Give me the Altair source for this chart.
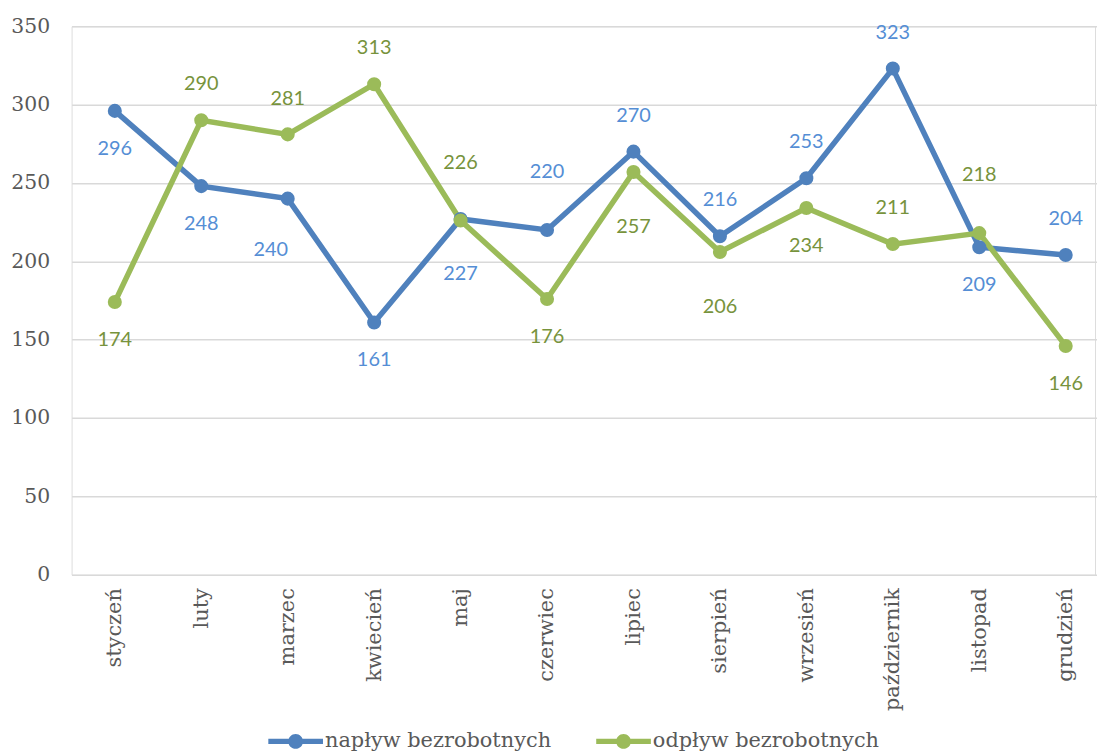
import altair as alt
import pandas as pd

months = ["styczeń", "luty", "marzec", "kwiecień", "maj", "czerwiec",
          "lipiec", "sierpień", "wrzesień", "październik", "listopad", "grudzień"]
inflow = [296, 248, 240, 161, 227, 220, 270, 216, 253, 323, 209, 204]
outflow = [174, 290, 281, 313, 226, 176, 257, 206, 234, 211, 218, 146]
series_names = ["napływ bezrobotnych", "odpływ bezrobotnych"]

# label placement (style): a = above, a2 = further above, b = below,
# b2 = further below, b2l = further below and shifted left
inflow_side = ["b", "b", "b2l", "b", "b2", "a2", "a", "a", "a", "a", "b", "a"]
outflow_side = ["b", "a", "a", "a", "a2", "b", "b2", "b2", "b", "a", "a2", "b"]

line_colors = ["#4F81BD", "#9BBB59"]
label_colors = ["#558ED5", "#77933C"]
side_offset = {"a": (0, -36), "a2": (0, -58), "b": (0, 38), "b2": (0, 55),
               "b2l": (-17, 52)}

rows = []
for name, vals, sides in [(series_names[0], inflow, inflow_side),
                          (series_names[1], outflow, outflow_side)]:
    for m, v, s in zip(months, vals, sides):
        rows.append({"miesiac": m, "wartosc": v, "seria": name, "side": s})
df = pd.DataFrame(rows)

serif = "DejaVu Serif"
sans = "Lato"

x_enc = alt.X("miesiac:N", sort=months, title=None,
              scale=alt.Scale(padding=0.5, range=[0, 1044]),
              axis=alt.Axis(labelAngle=-90, labelFont=serif, labelFontSize=21,
                            labelColor="#595959", labelPadding=13, ticks=False,
                            domain=False, grid=False))
y_enc = alt.Y("wartosc:Q", title=None,
              scale=alt.Scale(domain=[0, 350], nice=False),
              axis=alt.Axis(values=[0, 50, 100, 150, 200, 250, 300, 350],
                            labelFont=serif, labelFontSize=20.5, labelColor="#595959",
                            labelPadding=22, ticks=False, domain=False,
                            gridColor="#D9D9D9", gridWidth=1.5))
color_scale = alt.Scale(domain=series_names, range=line_colors)

base = alt.Chart(df)

lines = base.mark_line(strokeWidth=5.5).encode(
    x=x_enc, y=y_enc,
    detail="seria:N",
    color=alt.condition(alt.datum.seria == series_names[0],
                        alt.value(line_colors[0]), alt.value(line_colors[1])),
)

legend_path = ("M-1,-0.095 L1,-0.095 L1,0.095 L-1,0.095 Z "
               "M-0.27,0 A0.27,0.27 0 1,1 0.27,0 A0.27,0.27 0 1,1 -0.27,0 Z")

points = base.mark_point(filled=True, size=200, opacity=1).encode(
    x=x_enc, y=y_enc,
    color=alt.Color("seria:N", scale=color_scale, title=None,
                    legend=alt.Legend(orient="none", direction="horizontal",
                                      legendX=198, legendY=692,
                                      symbolType=legend_path, symbolSize=3025,
                                      symbolOpacity=1, symbolStrokeWidth=0,
                                      labelFont=serif, labelFontSize=21,
                                      labelColor="#595959", labelOffset=2,
                                      columnPadding=45, labelLimit=400)),
)

text_layers = []
for name, col in zip(series_names, label_colors):
    for side, (dx, dy) in side_offset.items():
        t = base.transform_filter(
            (alt.datum.seria == name) & (alt.datum.side == side)
        ).mark_text(font=sans, fontSize=20, color=col, dx=dx, dy=dy,
                    baseline="middle", align="center").encode(
            x=x_enc, y=y_enc, text=alt.Text("wartosc:Q"))
        text_layers.append(t)

chart = alt.layer(lines, points, *text_layers).properties(
    width=1030, height=552,
    autosize=alt.AutoSizeParams(type="none"),
    padding={"left": 64, "top": 16, "right": 2, "bottom": 175},
).configure_view(stroke=None).configure(background="white").configure_legend(
    labelFont=serif, labelFontSize=21, labelColor="#595959")

chart.save("out.html", embed_options={"renderer": "svg", "actions": False})
